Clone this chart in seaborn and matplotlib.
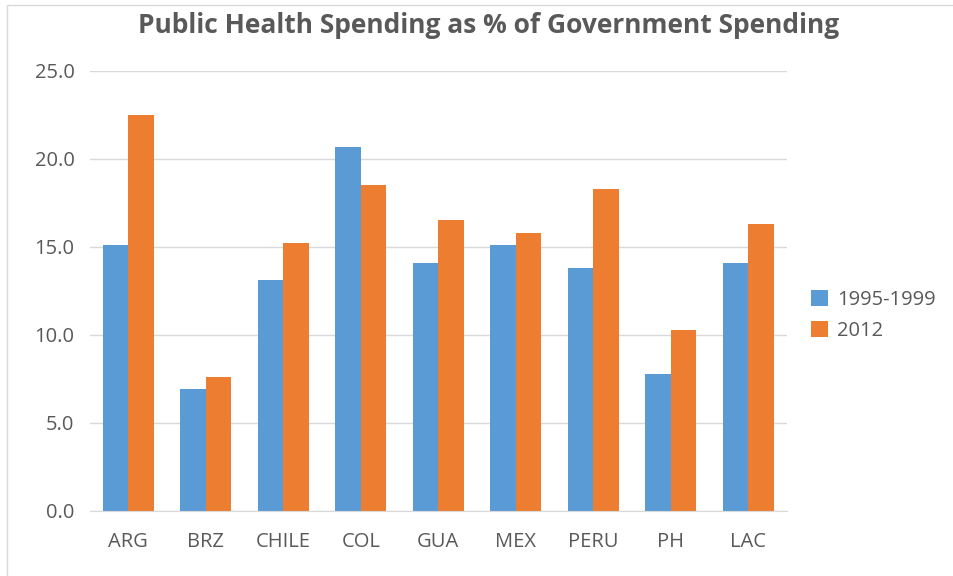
import numpy as np
import pandas as pd
import seaborn as sns
import matplotlib.pyplot as plt
from matplotlib.patches import Rectangle

countries = ["ARG", "BRZ", "CHILE", "COL", "GUA", "MEX", "PERU", "PH", "LAC"]
spend_1995_1999 = [15.1, 6.9, 13.1, 20.7, 14.1, 15.1, 13.8, 7.8, 14.1]
spend_2012 = [22.5, 7.6, 15.2, 18.5, 16.5, 15.8, 18.3, 10.3, 16.3]
series = ["1995-1999", "2012"]
yticks = [0, 5, 10, 15, 20, 25]

df = pd.DataFrame({"country": countries * 2,
                   "period": [series[0]] * len(countries) + [series[1]] * len(countries),
                   "value": spend_1995_1999 + spend_2012})

sns.set_style("white")
plt.rcParams["font.family"] = ["Open Sans", "DejaVu Sans"]
gray = "#595959"

fig = plt.figure(figsize=(9.54, 5.76), dpi=100)
ax = fig.add_axes([0.094, 0.113, 0.731, 0.764])
sns.barplot(data=df, x="country", y="value", hue="period", order=countries,
            hue_order=series, palette=["#5B9BD5", "#ED7D31"], width=0.66,
            gap=0, saturation=1, linewidth=0, ax=ax)

ax.set_ylim(0, 25)
ax.set_xlim(-0.5, len(countries) - 0.5)
ax.set_yticks(yticks)
ax.set_yticklabels([f"{t:.1f}" for t in yticks])
ax.yaxis.grid(True, color="#D9D9D9", linewidth=1)
ax.set_axisbelow(True)
for s in ["top", "right", "left"]:
    ax.spines[s].set_visible(False)
ax.spines["bottom"].set_color("#D9D9D9")
ax.set_xlabel("")
ax.set_ylabel("")
ax.tick_params(axis="both", length=0, labelsize=14.5, labelcolor=gray)
ax.tick_params(axis="x", pad=15)
ax.tick_params(axis="y", pad=11)

ax.legend(loc="center left", bbox_to_anchor=(1.008, 0.445), frameon=False,
          fontsize=14.5, labelcolor=gray, handlelength=0.85, handleheight=0.85,
          handletextpad=0.45, labelspacing=0.55)

fig.text(0.512, 0.955, "Public Health Spending as % of Government Spending",
         ha="center", va="center", fontsize=19, fontweight="bold", color=gray)

fig.patches.append(Rectangle((0.0073, -0.1), 1.1, 1.091, transform=fig.transFigure,
                             fill=False, edgecolor="#D9D9D9", linewidth=1))

plt.savefig("out.png", dpi=100)
plt.close("all")
